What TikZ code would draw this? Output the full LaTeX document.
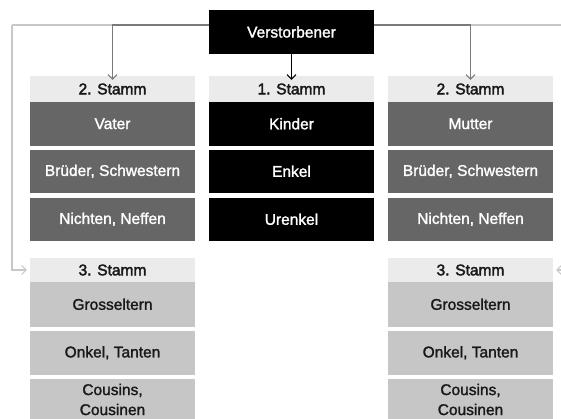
\documentclass[tikz,border=0pt]{standalone}
\usepackage{fontspec}
\setmainfont{Liberation Sans}
\newfontfamily\medfont{Liberation Sans}[FakeBold=1.6]
\newfontfamily\semfont{Liberation Sans}[FakeBold=2.4]
\usetikzlibrary{arrows.meta}
\definecolor{hdr}{HTML}{EBEBEB}
\definecolor{dark}{HTML}{666666}
\definecolor{lite}{HTML}{C6C6C6}
\definecolor{outer}{HTML}{C8C8C8}
\definecolor{inner}{HTML}{7A7A7A}
\begin{document}
\begin{tikzpicture}[x=1pt,y=-1pt,
  base/.style={inner sep=0pt, minimum width=165pt, align=center, font=\medfont\fontsize{15.5}{20}\selectfont},
  hbox/.style={base, fill=hdr, text=black!90, font=\semfont\fontsize{15.5}{20}\selectfont},
  dbox/.style={base, fill=dark, text=white, minimum height=43.5pt},
  kbox/.style={base, fill=black, text=white, minimum height=43.5pt},
  lbox/.style={base, fill=lite, text=black!90, minimum height=44.5pt},
  tip/.style={-{Straight Barb[length=4.5pt,width=9pt,line width=1pt]}},
]
\useasboundingbox (0,0) rectangle (561,418);
% outer connector end points
\coordinate (oL) at (12,25);
\coordinate (oR) at (572,25);
\coordinate (oLd) at (12,270);
\coordinate (oRd) at (572,270);
% top node
\node[kbox, minimum height=44pt] (v) at (291.5,32) {Verstorbener};
% columns
\node[hbox, minimum height=26pt] (hl) at (112.5,89) {2. Stamm};
\node[hbox, minimum height=26pt] (hm) at (291.5,89) {1. Stamm};
\node[hbox, minimum height=26pt] (hr) at (470.5,89) {2. Stamm};
\node[dbox] (l1) at (112.5,123.75) {Vater};
\node[dbox] (l2) at (112.5,171.25) {Brüder, Schwestern};
\node[dbox] (l3) at (112.5,219.25) {Nichten, Neffen};
\node[kbox] (m1) at (291.5,123.75) {Kinder};
\node[kbox] (m2) at (291.5,171.25) {Enkel};
\node[kbox] (m3) at (291.5,219.25) {Urenkel};
\node[dbox] (r1) at (470.5,123.75) {Mutter};
\node[dbox] (r2) at (470.5,171.25) {Brüder, Schwestern};
\node[dbox] (r3) at (470.5,219.25) {Nichten, Neffen};
\node[hbox, minimum height=24pt] (gl) at (112.5,270) {3. Stamm};
\node[hbox, minimum height=24pt] (gr) at (470.5,270) {3. Stamm};
\node[lbox] (gl1) at (112.5,304.25) {Grosseltern};
\node[lbox] (gl2) at (112.5,352.75) {Onkel, Tanten};
\node[lbox] (gl3) at (112.5,401.25) {};
\node[lbox] (gr1) at (470.5,304.25) {Grosseltern};
\node[lbox] (gr2) at (470.5,352.75) {Onkel, Tanten};
\node[lbox] (gr3) at (470.5,401.25) {};
\node[base, text=black!90] (gl3t) at (112.5,399.5) {Cousins,\\Cousinen};
\node[base, text=black!90] (gr3t) at (470.5,399.5) {Cousins,\\Cousinen};
% outer grey lines
\draw[outer, line width=1.2pt] (oL) -- (v.west|-oL);
\draw[outer, line width=1.2pt] (v.east|-oR) -- (oR);
\draw[outer, line width=1.2pt, tip] (oL) -- (oLd) -- ([xshift=-3pt]gl.west);
\draw[outer, line width=1.2pt, tip] (oR) -- (oRd) -- ([xshift=3pt]gr.east);
% inner arrows
\draw[inner, line width=1.1pt, tip] ([yshift=7pt]v.west) -| ([yshift=-4pt]hl.north);
\draw[inner, line width=1.1pt, tip] ([yshift=7pt]v.east) -| ([yshift=-4pt]hr.north);
\draw[black, line width=1.1pt, tip] (v.south) -- ([yshift=-4pt]hm.north);
\end{tikzpicture}
\end{document}
